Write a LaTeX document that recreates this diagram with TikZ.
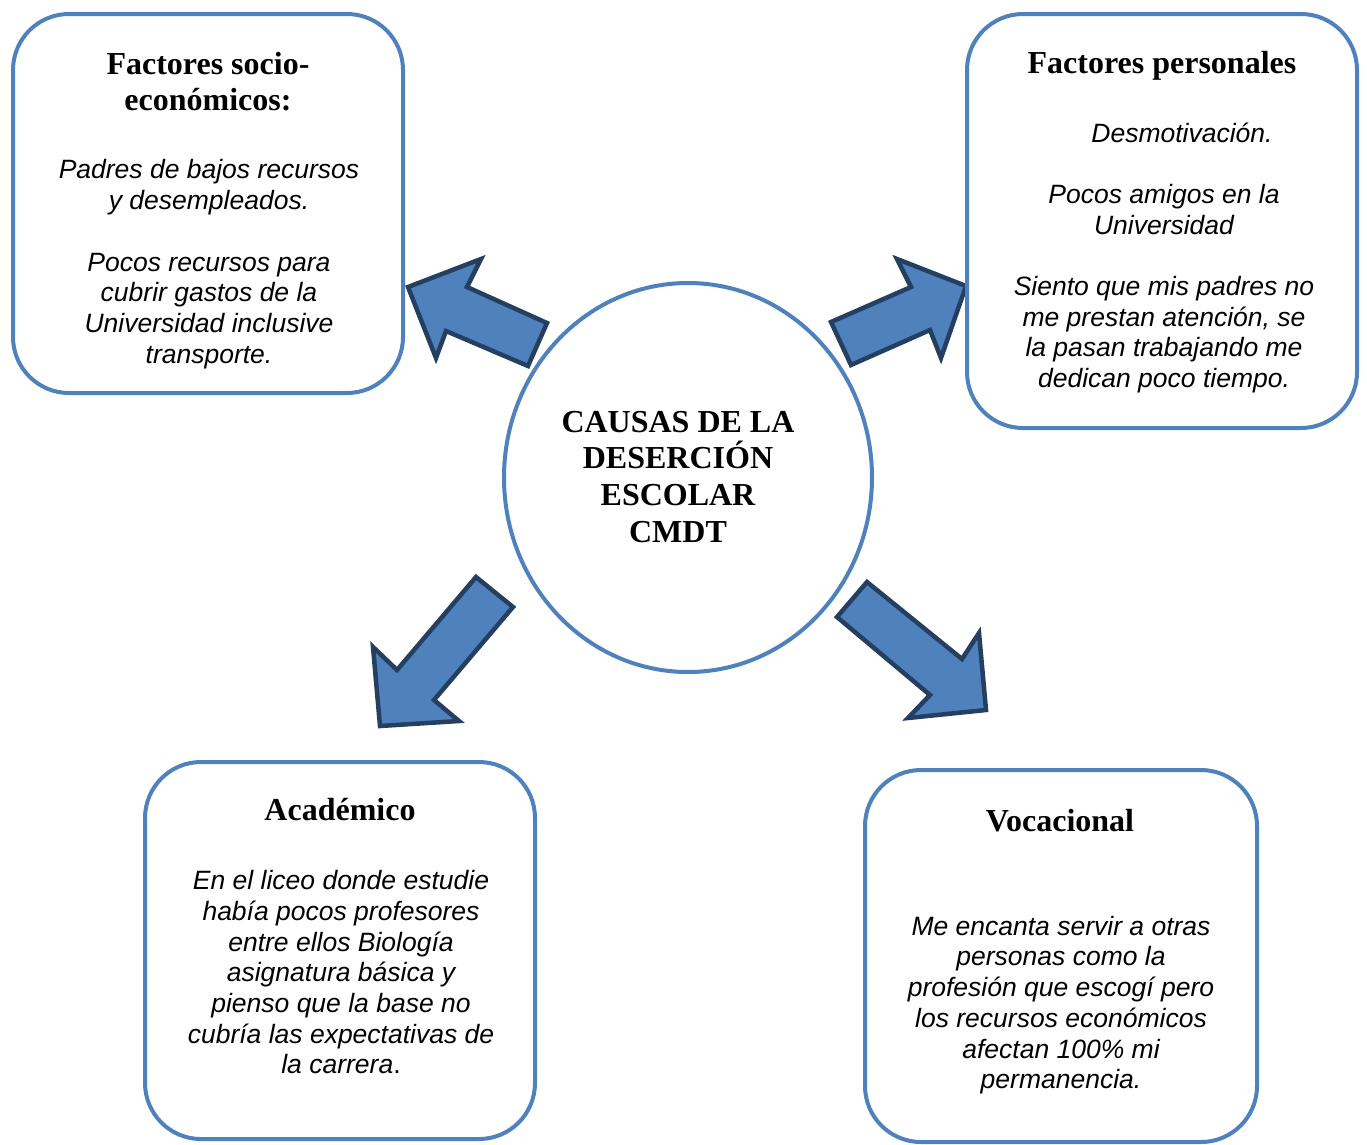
\documentclass[tikz,border=0pt]{standalone}
\usepackage{fontspec}
\setmainfont{Liberation Serif}
\newfontfamily\arialf{Liberation Sans}
\usetikzlibrary{shapes.geometric}
\definecolor{boxblue}{HTML}{4F81BD}
\definecolor{arrowedge}{HTML}{243F60}
\begin{document}
\begin{tikzpicture}[x=1pt,y=-1pt,
  box/.style={draw=boxblue, line width=4pt, rounded corners=56pt, inner sep=0pt},
  blockarrow/.style={fill=boxblue, draw=arrowedge, line width=4.5pt, line join=miter},
  ttl/.style={font=\fontsize{32}{36}\selectfont\bfseries, anchor=base, inner sep=0pt},
  bdy/.style={font=\arialf\itshape\fontsize{26.5}{31}\selectfont, anchor=base, inner sep=0pt}]
\useasboundingbox (0,0) rectangle (1367,1144);

% block arrows
\draw[blockarrow] (408,287) -- (481,259) -- (467,287) -- (547,323) -- (528,366) -- (446,331) -- (436,358) -- cycle;
\draw[blockarrow] (831,322) -- (911,287) -- (897,259) -- (966,286) -- (941,358) -- (930,330) -- (851,365) -- cycle;
\draw[blockarrow] (476,577) -- (513,607) -- (434,700) -- (459,721) -- (380,726) -- (373,647) -- (397,670) -- cycle;
\draw[blockarrow] (867,582) -- (962,659) -- (979,633) -- (986,710) -- (908,718) -- (930,695) -- (837,617) -- cycle;

% boxes
\node[box, minimum width=390pt, minimum height=379pt] (b1) at (208,203.5) {};
\node[box, minimum width=390pt, minimum height=414pt] (b2) at (1162,221) {};
\node[box, minimum width=390pt, minimum height=377pt] (b3) at (340,950.5) {};
\node[box, minimum width=392pt, minimum height=372pt] (b4) at (1061,956) {};

% centre
\node[draw=boxblue, line width=4pt, ellipse, minimum width=368pt, minimum height=389pt, inner sep=0pt] (c) at (688,477.5) {};
\foreach \yy/\txt [count=\i] in {432/{CAUSAS DE LA},468.5/{DESERCIÓN},505/{ESCOLAR},542/{CMDT}}
  \node[ttl] (c\i) at (678,\yy) {\txt};

% box 1
\node[ttl] (t1a) at (208,74) {Factores socio-};
\node[ttl] (t1b) at (208,110) {económicos:};
\foreach \yy/\txt [count=\i] in {178/{Padres de bajos recursos},209/{y desempleados.},271/{Pocos recursos para},301.7/{cubrir gastos de la},332.4/{Universidad inclusive},363/{transporte.}}
  \node[bdy] (s\i) at (209,\yy) {\txt};

% box 2
\node[ttl] (t2) at (1162,73) {Factores personales};
\node[bdy] (p0) at (1182,142.5) {Desmotivación.};
\foreach \yy/\txt [count=\i] in {203/{Pocos amigos en la},234/{Universidad},295/{Siento que mis padres no},326/{me prestan atención, se},356.5/{la pasan trabajando me},387.5/{dedican poco tiempo.}}
  \node[bdy] (p\i) at (1164,\yy) {\txt};

% box 3
\node[ttl] (t3) at (340,820) {Académico};
\foreach \yy/\txt [count=\i] in {889/{En el liceo donde estudie},920/{había pocos profesores},951/{entre ellos Biología},981.5/{asignatura básica y},1012/{pienso que la base no},1043/{cubría las expectativas de},1073.5/{la carrera{\upshape .}}}
  \node[bdy] (a\i) at (341,\yy) {\txt};

% box 4
\node[ttl] (t4) at (1060,831) {Vocacional};
\foreach \yy/\txt [count=\i] in {935/{Me encanta servir a otras},965.5/{personas como la},996/{profesión que escogí pero},1027/{los recursos económicos},1058/{afectan 100\% mi},1088.5/{permanencia.}}
  \node[bdy] (v\i) at (1061,\yy) {\txt};
\end{tikzpicture}
\end{document}
